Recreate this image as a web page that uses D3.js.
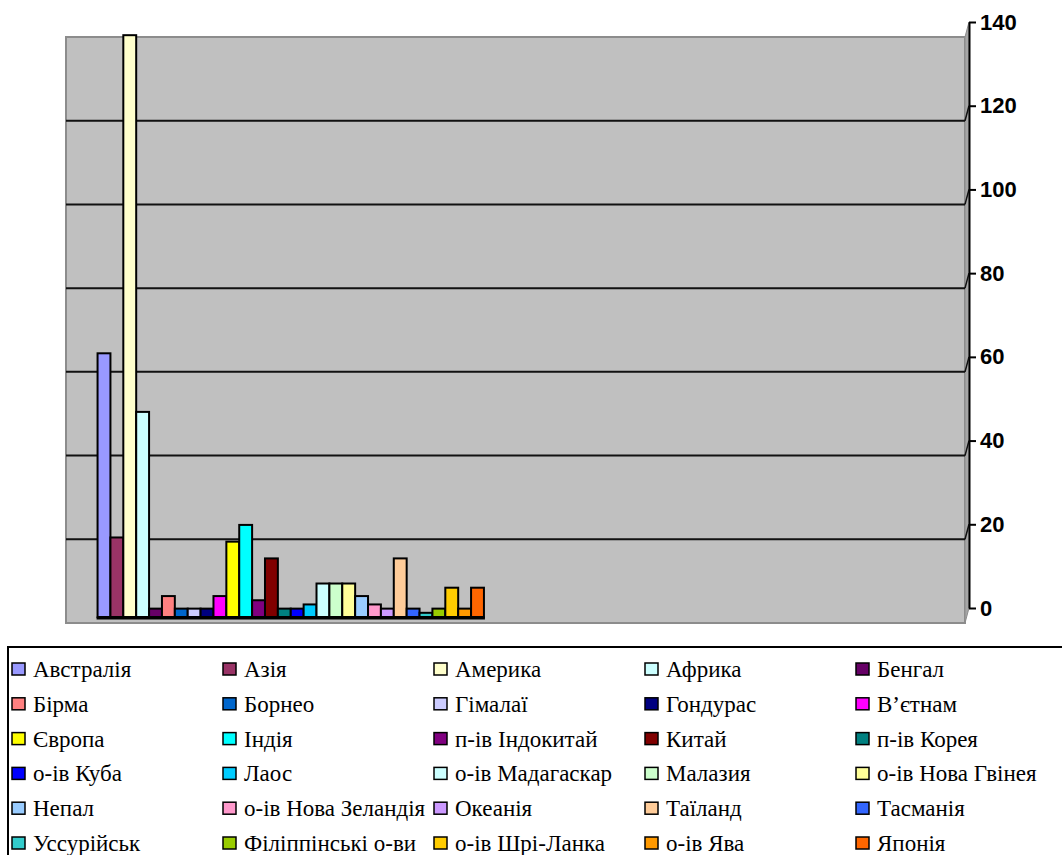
<!DOCTYPE html>
<html>
<head>
<meta charset="utf-8">
<script src="https://cdn.jsdelivr.net/npm/d3@7"></script>
<style>
  body { margin: 0; background: #fff; }
  svg { display: block; }
</style>
</head>
<body>
<svg id="chart"></svg>
<script>
let w = 1062
let h = 855

let regions = ["Австралія", "Азія", "Америка", "Африка", "Бенгал",
  "Бірма", "Борнео", "Гімалаї", "Гондурас", "В’єтнам",
  "Європа", "Індія", "п-ів Індокитай", "Китай", "п-ів Корея",
  "о-ів Куба", "Лаос", "о-ів Мадагаскар", "Малазия", "о-ів Нова Гвінея",
  "Непал", "о-ів Нова Зеландія", "Океанія", "Таїланд", "Тасманія",
  "Уссурійськ", "Філіппінські о-ви", "о-ів Шрі-Ланка", "о-ів Ява", "Японія"]

let counts = [63, 19, 139, 49, 2,
  5, 2, 2, 2, 5,
  18, 22, 4, 14, 2,
  2, 3, 8, 8, 8,
  5, 3, 2, 14, 2,
  1, 2, 7, 2, 7]

let colorArr = ["#9999ff", "#993366", "#ffffcc", "#ccffff", "#660066",
  "#ff8080", "#0066cc", "#ccccff", "#000080", "#ff00ff",
  "#ffff00", "#00ffff", "#800080", "#800000", "#008080",
  "#0000ff", "#00ccff", "#ccffff", "#ccffcc", "#ffff99",
  "#99ccff", "#ff99cc", "#cc99ff", "#ffcc99", "#3366ff",
  "#33cccc", "#99cc00", "#ffcc00", "#ff9900", "#ff6600"]

// two categories on the x axis, only the first one holds data
let groups = ["1", "2"]
let tickVals = [0, 20, 40, 60, 80, 100, 120, 140]

let svg = d3.select('#chart')
  .attr('width', w)
  .attr('height', h)

let wallX0 = 66, wallX1 = 965
let depth = 15

let x0 = d3.scaleBand().domain(groups).range([wallX0, wallX1])
let x1 = d3.scaleBand().domain(regions).range([0, x0.bandwidth()]).paddingInner(0).paddingOuter(2.45)

let yAxisScale = d3.scaleLinear().domain([0, 140]).range([608, 22])
let yWall = d3.scaleLinear().domain([0, 140]).range([608 + depth, 22 + depth])
let yBar = d3.scaleLinear().domain([0, 140]).range([617, 31])

// back wall
svg.append('rect')
  .attr('x', wallX0)
  .attr('y', yWall(140))
  .attr('width', wallX1 - wallX0)
  .attr('height', yWall(0) - yWall(140))
  .attr('fill', '#c0c0c0')
  .attr('stroke', '#8c8c8c')
  .attr('stroke-width', 2)

// right side of the wall
svg.append('polygon')
  .attr('points', [[wallX1, yWall(140)], [969, yAxisScale(140)], [969, yAxisScale(0)], [wallX1, yWall(0)]].join(' '))
  .attr('fill', '#a6a6a6')
  .attr('stroke', '#8c8c8c')
  .attr('stroke-width', 1)

svg.append('g')
  .selectAll('line')
  .data(tickVals.filter(d => d > 0 && d < 140))
  .join('line')
  .attr('x1', wallX0)
  .attr('x2', wallX1)
  .attr('y1', d => yWall(d))
  .attr('y2', d => yWall(d))
  .attr('stroke', '#111')
  .attr('stroke-width', 2)

svg.append('g')
  .selectAll('line')
  .data(tickVals.filter(d => d > 0 && d < 140))
  .join('line')
  .attr('x1', wallX1)
  .attr('x2', 969)
  .attr('y1', d => yWall(d))
  .attr('y2', d => yAxisScale(d))
  .attr('stroke', '#111')
  .attr('stroke-width', 1.5)

// bars
let gx = x0(groups[0])

svg.append('g')
  .selectAll('rect')
  .data(regions)
  .join('rect')
  .attr('x', d => gx + x1(d))
  .attr('y', (d, i) => yBar(counts[i]))
  .attr('width', x1.bandwidth())
  .attr('height', (d, i) => yBar(0) - yBar(counts[i]))
  .attr('fill', (d, i) => colorArr[i])
  .attr('stroke', '#000')
  .attr('stroke-width', 2)

svg.append('line')
  .attr('x1', gx + x1(regions[0]) - 1)
  .attr('x2', gx + x1(regions[regions.length - 1]) + x1.bandwidth() + 1)
  .attr('y1', yBar(0) + 1)
  .attr('y2', yBar(0) + 1)
  .attr('stroke', '#000')
  .attr('stroke-width', 3)

// value axis
let yAxis = d3.axisRight(yAxisScale)
  .tickValues(tickVals)
  .tickSize(7)
  .tickPadding(4)
  .tickSizeOuter(0)

let axisG = svg.append('g')
  .attr('transform', 'translate(969,0)')
  .call(yAxis)

axisG.select('.domain').attr('stroke', '#000').attr('stroke-width', 2)
axisG.selectAll('.tick line').attr('stroke', '#000').attr('stroke-width', 2)
axisG.selectAll('.tick text')
  .attr('fill', '#000')
  .style('font', 'bold 22px "Liberation Sans"')

// legend
let legend = svg.append('g')

legend.append('rect')
  .attr('x', 8)
  .attr('y', 647)
  .attr('width', 1100)
  .attr('height', 300)
  .attr('fill', '#fff')
  .attr('stroke', '#000')
  .attr('stroke-width', 2)

let legendItem = legend.selectAll('g')
  .data(regions)
  .join('g')
  .attr('transform', (d, i) => 'translate(' + (12 + (i % 5) * 211) + ',' + (669 + Math.floor(i / 5) * 34.8) + ')')

legendItem.append('rect')
  .attr('x', 0)
  .attr('y', -6)
  .attr('width', 13)
  .attr('height', 12)
  .attr('fill', (d, i) => colorArr[i])
  .attr('stroke', '#000')
  .attr('stroke-width', 1.5)

legendItem.append('text')
  .text(d => d)
  .attr('x', 21)
  .attr('y', 8)
  .attr('fill', '#000')
  .style('font', '23px "Liberation Serif"')
</script>
</body>
</html>
